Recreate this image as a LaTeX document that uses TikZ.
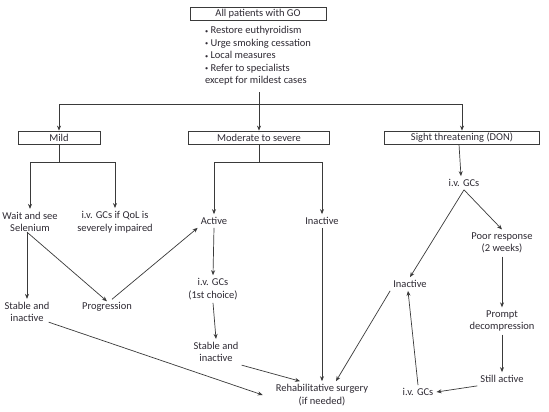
\documentclass[tikz,border=0pt]{standalone}
\usepackage{fontspec}
\setmainfont{Carlito}
\usepackage{xcolor}
\definecolor{golinegray}{HTML}{3A3A3A}
\definecolor{gotextgray}{HTML}{2E2A33}
\usepackage{tikz}
\usetikzlibrary{%
      arrows.meta,%
  positioning%
  }
\newcommand{\gobullet}{\raisebox{0.15ex}{\scalebox{0.6}{\textbullet}}\ }
\tikzset{
  gobox/.style={draw=golinegray,line width=0.8pt,minimum height=13pt,inner sep=1pt,text=gotextgray},
  gotext/.style={align=center,inner sep=3pt,text=gotextgray},
  goarr/.style={-{Stealth[length=5pt,width=4pt]},draw=golinegray,line width=0.7pt}
}

\begin{document}
\begin{tikzpicture}[x=1pt,y=-1pt,font=\fontsize{10.5}{12.5}\selectfont]
    \useasboundingbox (0,0) rectangle (549,412);
     \fill[white] (0,0) rectangle (549,412);
  % top of the chart
  \node[gobox,minimum width=136pt] (allgo) at (258,14) {All patients with GO};
  \node[gotext,align=left,inner sep=2pt] (measures) at (258,56)
    {\gobullet Restore euthyroidism\\
     \gobullet Urge smoking cessation\\
     \gobullet Local measures\\
     \gobullet Refer to specialists\\
     except for mildest cases};
  % severity boxes
  \node[gobox,minimum width=82pt] (mild) at (59,137.5) {Mild};
  \node[gobox,minimum width=141pt] (moderate) at (259,137.5) {Moderate to severe};
  \node[gobox,minimum width=155pt] (sight) at (462,137.5) {Sight threatening (DON)};
  % mild branch
  \node[gotext] (waitsee) at (30,222) {Wait and see\\Selenium};
  \node[gotext] (ivqol) at (115,222) {i.v. GCs if QoL is\\severely impaired};
  \node[gotext] (stablemild) at (27,312) {Stable and\\inactive};
  \node[gotext] (progress) at (107,307) {Progression};
  % moderate branch
  \node[gotext] (active) at (214,221) {Active};
  \node[gotext] (inactmod) at (322,221) {Inactive};
  \node[gotext] (ivfirst) at (213,289) {i.v. GCs\\(1st choice)};
  \node[gotext] (stablemod) at (216,352) {Stable and\\inactive};
  \node[gotext] (rehab) at (322,395) {Rehabilitative surgery\\(if needed)};
  % sight threatening branch
  \node[gotext] (ivdon) at (464,183) {i.v. GCs};
  \node[gotext] (inactdon) at (410,284) {Inactive};
  \node[gotext] (poor) at (502,243) {Poor response\\(2 weeks)};
  \node[gotext] (prompt) at (502,321) {Prompt\\decompression};
  \node[gotext] (still) at (502,379) {Still active};
  \node[gotext] (ivlast) at (418,392) {i.v. GCs};

  % splitting lines
  \coordinate (hub) at (259,104);
  \draw[goarr] (259,92) -- (moderate.north);
  \draw[goarr] (hub) -| (mild.north);
  \draw[goarr] (hub) -| (sight.north);
  \draw[goarr] (mild.south) -- ++(0,18) -| (waitsee.north);
  \draw[goarr] (mild.south) -- ++(0,18) -| (ivqol.north);
  \draw[goarr] (moderate.south) -- ++(0,18) -| (active.north);
  \draw[goarr] (moderate.south) -- ++(0,18) -| (inactmod.north);
  \draw[goarr] ([xshift=-3pt]sight.south) -- ([xshift=-3pt]ivdon.north);
  % flow
  \draw[goarr] ([xshift=-3pt,yshift=3pt]waitsee.south) -- (stablemild.north);
  \draw[goarr] ([xshift=-3pt,yshift=3pt]waitsee.south) -- ([yshift=-2pt]progress.north);
  \draw[goarr] ([xshift=5pt]progress.north) -- (active.south west);
  \draw[goarr] (active.south) -- (ivfirst.north);
  \draw[goarr] (ivfirst.south) -- (stablemod.north);
  \draw[goarr] ([xshift=-4pt,yshift=3pt]stablemild.south east) -- ([xshift=-10pt]rehab.west);
  \draw[goarr] (stablemod.south east) -- ([xshift=-22pt]rehab.north);
  \draw[goarr] (inactmod.south) -- (rehab.north);
  \draw[goarr] (inactdon.south west) -- ([xshift=14pt]rehab.north);
  \draw[goarr] (ivdon.south) -- (inactdon.north);
  \draw[goarr] (ivdon.south) -- (poor.north);
  \draw[goarr] (poor.south) -- (prompt.north);
  \draw[goarr] (prompt.south) -- (still.north);
  \draw[goarr] (still.south west) -- (ivlast.east);
  \draw[goarr] (ivlast.north) -- ([xshift=-2pt]inactdon.south);
  %  \draw[goarr] (stablemod.east) -- (rehab.north);
\end{tikzpicture}
\end{document}
